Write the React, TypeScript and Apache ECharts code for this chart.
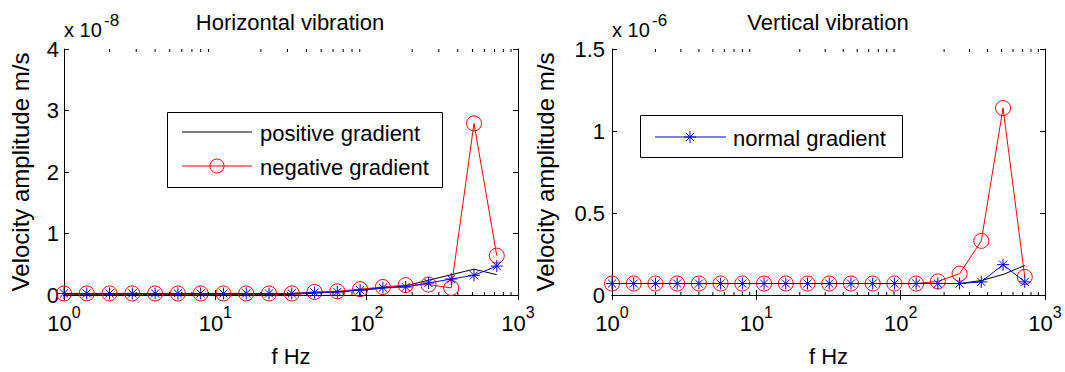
import React, { useEffect, useRef } from "react";
import * as echarts from "echarts";

// Frequencies (Hz) of the computed points
const FREQ = [1, 1.414, 2, 2.828, 4, 5.657, 8, 11.31, 16, 22.63, 32, 45.25, 64, 90.51, 128, 181, 256, 362, 512, 724];

// Horizontal vibration (x 1e-8 m/s)
const H_POSITIVE = [0.005, 0.005, 0.005, 0.005, 0.005, 0.005, 0.005, 0.005, 0.005, 0.005, 0.01, 0.03, 0.05, 0.08, 0.11, 0.15, 0.24, 0.33, 0.42, 0.33];
const H_NEGATIVE = [0.025, 0.025, 0.025, 0.025, 0.025, 0.025, 0.025, 0.025, 0.025, 0.025, 0.025, 0.05, 0.06, 0.095, 0.13, 0.16, 0.17, 0.115, 2.79, 0.64];
const H_NORMAL = [0.025, 0.025, 0.025, 0.025, 0.025, 0.025, 0.025, 0.025, 0.025, 0.025, 0.025, 0.04, 0.05, 0.08, 0.12, 0.13, 0.195, 0.26, 0.32, 0.47];

// Vertical vibration (x 1e-6 m/s)
const V_POSITIVE = [0.07, 0.07, 0.07, 0.07, 0.07, 0.07, 0.07, 0.07, 0.07, 0.07, 0.07, 0.07, 0.07, 0.07, 0.07, 0.07, 0.07, 0.088, 0.125, 0.18];
const V_NEGATIVE = [0.07, 0.07, 0.07, 0.07, 0.07, 0.07, 0.07, 0.07, 0.07, 0.07, 0.07, 0.07, 0.07, 0.07, 0.07, 0.083, 0.13, 0.33, 1.14, 0.11];
const V_NORMAL = [0.07, 0.07, 0.07, 0.07, 0.07, 0.07, 0.07, 0.07, 0.07, 0.07, 0.07, 0.07, 0.07, 0.07, 0.07, 0.07, 0.07, 0.08, 0.185, 0.08];

// Axis ranges / ticks
const X_MIN = 1;
const X_MAX = 1000;
const H_Y_MAX = 4;
const H_Y_INTERVAL = 1;
const V_Y_MAX = 1.5;
const V_Y_INTERVAL = 0.5;
const MINOR_X = [2, 3, 4, 5, 6, 7, 8, 9, 20, 30, 40, 50, 60, 70, 80, 90, 200, 300, 400, 500, 600, 700, 800, 900];

const SERIES_NAMES = ["positive gradient", "negative gradient", "normal gradient"];

const FONT = "'Liberation Sans', Arial, Helvetica, sans-serif";
const FS = 22;
const YNAME_FS = 24;
const ASTERISK = "path://M0,5L10,5M5,0L5,10M1.6,1.6L8.4,8.4M8.4,1.6L1.6,8.4";

const pairs = (ys: number[]) => FREQ.map((f, i) => [f, ys[i]]);

function makeXAxes(gridIndex: number) {
  const base = {
    type: "log" as const,
    logBase: 10,
    gridIndex,
    min: X_MIN,
    max: X_MAX,
    splitLine: { show: false },
    axisLine: { show: true, lineStyle: { color: "#000", width: 1 } },
    axisTick: { show: true, inside: true, length: 5, lineStyle: { color: "#000" } },
  };
  return [
    {
      ...base,
      position: "bottom",
      name: "f Hz",
      nameLocation: "middle",
      nameGap: 50,
      nameTextStyle: { fontSize: FS, fontFamily: FONT, color: "#000" },
      axisLabel: {
        margin: 9,
        formatter: (v: number) => `{b|10}{s|${Math.round(Math.log10(v))}}`,
        rich: {
          b: { fontSize: FS, fontFamily: FONT, color: "#000", verticalAlign: "bottom", lineHeight: 30 },
          s: { fontSize: 16, fontFamily: FONT, color: "#000", verticalAlign: "top", lineHeight: 30 },
        },
      },
    },
    { ...base, position: "top", axisLabel: { show: false } },
  ];
}

function makeYAxes(gridIndex: number, max: number, interval: number, nameGap: number, margin: number) {
  const base = {
    type: "value" as const,
    gridIndex,
    min: 0,
    max,
    interval,
    splitLine: { show: false },
    axisLine: { show: true, lineStyle: { color: "#000", width: 1 } },
    axisTick: { show: true, inside: true, length: 5, lineStyle: { color: "#000" } },
  };
  return [
    {
      ...base,
      position: "left",
      name: "Velocity amplitude m/s",
      nameLocation: "middle",
      nameGap,
      nameTextStyle: { fontSize: YNAME_FS, fontFamily: FONT, color: "#000" },
      axisLabel: { margin, fontSize: FS, fontFamily: FONT, color: "#000" },
    },
    { ...base, position: "right", axisLabel: { show: false } },
  ];
}

function lineSeries(name: string, data: number[], xi: number, yi: number) {
  if (name === SERIES_NAMES[0]) {
    return {
      type: "line", name, xAxisIndex: xi, yAxisIndex: yi, data: pairs(data),
      showSymbol: false, symbol: "none",
      lineStyle: { color: "#000", width: 1 }, z: 3,
    };
  }
  if (name === SERIES_NAMES[1]) {
    return {
      type: "line", name, xAxisIndex: xi, yAxisIndex: yi, data: pairs(data),
      symbol: "circle", symbolSize: 15,
      itemStyle: { color: "rgba(0,0,0,0)", borderColor: "#ff0000", borderWidth: 1 },
      lineStyle: { color: "#ff0000", width: 1 }, z: 4,
    };
  }
  return {
    type: "line", name, xAxisIndex: xi, yAxisIndex: yi, data: pairs(data),
    symbol: ASTERISK, symbolSize: 12,
    itemStyle: { color: "rgba(0,0,0,0)", borderColor: "#0000ff", borderWidth: 1 },
    lineStyle: { color: "#0000ff", width: 1 }, z: 5,
  };
}

function minorTicks(xi: number, yi: number, yMax: number) {
  return {
    type: "custom",
    xAxisIndex: xi,
    yAxisIndex: yi,
    silent: true,
    clip: false,
    z: 6,
    data: MINOR_X.map((f) => [f, yMax]),
    renderItem: (_params: any, api: any) => {
      const f = api.value(0);
      const pb = api.coord([f, 0]);
      const pt = api.coord([f, api.value(1)]);
      const st = { stroke: "#000", lineWidth: 1 };
      return {
        type: "group",
        children: [
          { type: "line", shape: { x1: pb[0], y1: pb[1], x2: pb[0], y2: pb[1] - 3 }, style: st },
          { type: "line", shape: { x1: pt[0], y1: pt[1], x2: pt[0], y2: pt[1] + 3 }, style: st },
        ],
      };
    },
  };
}

function asteriskLines(cx: number, cy: number, r: number, color: string) {
  const d = r * 0.68;
  const st = { stroke: color, lineWidth: 1 };
  return [
    { type: "line", z: 102, shape: { x1: cx - r, y1: cy, x2: cx + r, y2: cy }, style: st },
    { type: "line", z: 102, shape: { x1: cx, y1: cy - r, x2: cx, y2: cy + r }, style: st },
    { type: "line", z: 102, shape: { x1: cx - d, y1: cy - d, x2: cx + d, y2: cy + d }, style: st },
    { type: "line", z: 102, shape: { x1: cx + d, y1: cy - d, x2: cx - d, y2: cy + d }, style: st },
  ];
}

const textStyle = (text: string, size: number, align: string = "left") => ({
  text, fontSize: size, fontFamily: FONT, fill: "#000", textAlign: align, textVerticalAlign: "middle",
});

export default function App() {
  const ref = useRef<HTMLDivElement>(null);
  useEffect(() => {
    const chart = echarts.init(ref.current!, null, { renderer: "svg" });
    const grids = [
      { left: 64, top: 49, width: 454, height: 253 },
      { left: 612, top: 49, width: 433, height: 253 },
    ];
    const option: any = {
      animation: false,
      backgroundColor: "#fff",
      grid: grids,
      xAxis: [...makeXAxes(0), ...makeXAxes(1)],
      yAxis: [...makeYAxes(0, H_Y_MAX, H_Y_INTERVAL, 32, 5), ...makeYAxes(1, V_Y_MAX, V_Y_INTERVAL, 55, 7)],
      series: [
        lineSeries(SERIES_NAMES[0], H_POSITIVE, 0, 0),
        lineSeries(SERIES_NAMES[1], H_NEGATIVE, 0, 0),
        lineSeries(SERIES_NAMES[2], H_NORMAL, 0, 0),
        lineSeries(SERIES_NAMES[0], V_POSITIVE, 2, 2),
        lineSeries(SERIES_NAMES[1], V_NEGATIVE, 2, 2),
        lineSeries(SERIES_NAMES[2], V_NORMAL, 2, 2),
        minorTicks(0, 0, H_Y_MAX),
        minorTicks(2, 2, V_Y_MAX),
      ],
      graphic: [
        // titles
        { type: "text", z: 100, x: 290, y: 22, style: textStyle("Horizontal vibration", FS, "center") },
        { type: "text", z: 100, x: 828, y: 22, style: textStyle("Vertical vibration", FS, "center") },
        // exponent labels
        { type: "text", z: 100, x: 64, y: 30, style: textStyle("x 10", 20) },
        { type: "text", z: 100, x: 104, y: 20, style: textStyle("-8", 17) },
        { type: "text", z: 100, x: 612, y: 30, style: textStyle("x 10", 20) },
        { type: "text", z: 100, x: 652, y: 20, style: textStyle("-6", 17) },
        // left legend
        { type: "rect", z: 100, shape: { x: 167.5, y: 112.5, width: 275, height: 75 }, style: { fill: "#fff", stroke: "#000", lineWidth: 1 } },
        { type: "line", z: 101, shape: { x1: 182, y1: 132, x2: 252, y2: 132 }, style: { stroke: "#000", lineWidth: 1 } },
        { type: "text", z: 101, x: 260, y: 133, style: textStyle(SERIES_NAMES[0], FS) },
        { type: "line", z: 101, shape: { x1: 182, y1: 166, x2: 252, y2: 166 }, style: { stroke: "#ff0000", lineWidth: 1 } },
        { type: "circle", z: 102, shape: { cx: 217, cy: 166, r: 7 }, style: { fill: "none", stroke: "#ff0000", lineWidth: 1 } },
        { type: "text", z: 101, x: 260, y: 167, style: textStyle(SERIES_NAMES[1], FS) },
        // right legend
        { type: "rect", z: 100, shape: { x: 640.5, y: 115.5, width: 262, height: 42 }, style: { fill: "#fff", stroke: "#000", lineWidth: 1 } },
        { type: "line", z: 101, shape: { x1: 655, y1: 137, x2: 726, y2: 137 }, style: { stroke: "#0000ff", lineWidth: 1 } },
        ...asteriskLines(690, 137, 6, "#0000ff"),
        { type: "text", z: 101, x: 733, y: 138, style: textStyle(SERIES_NAMES[2], FS) },
      ],
    };
    chart.setOption(option);
    return () => chart.dispose();
  }, []);
  return <div ref={ref} style={{ position: "absolute", left: 0, top: 0, width: 1065, height: 372 }} />;
}
